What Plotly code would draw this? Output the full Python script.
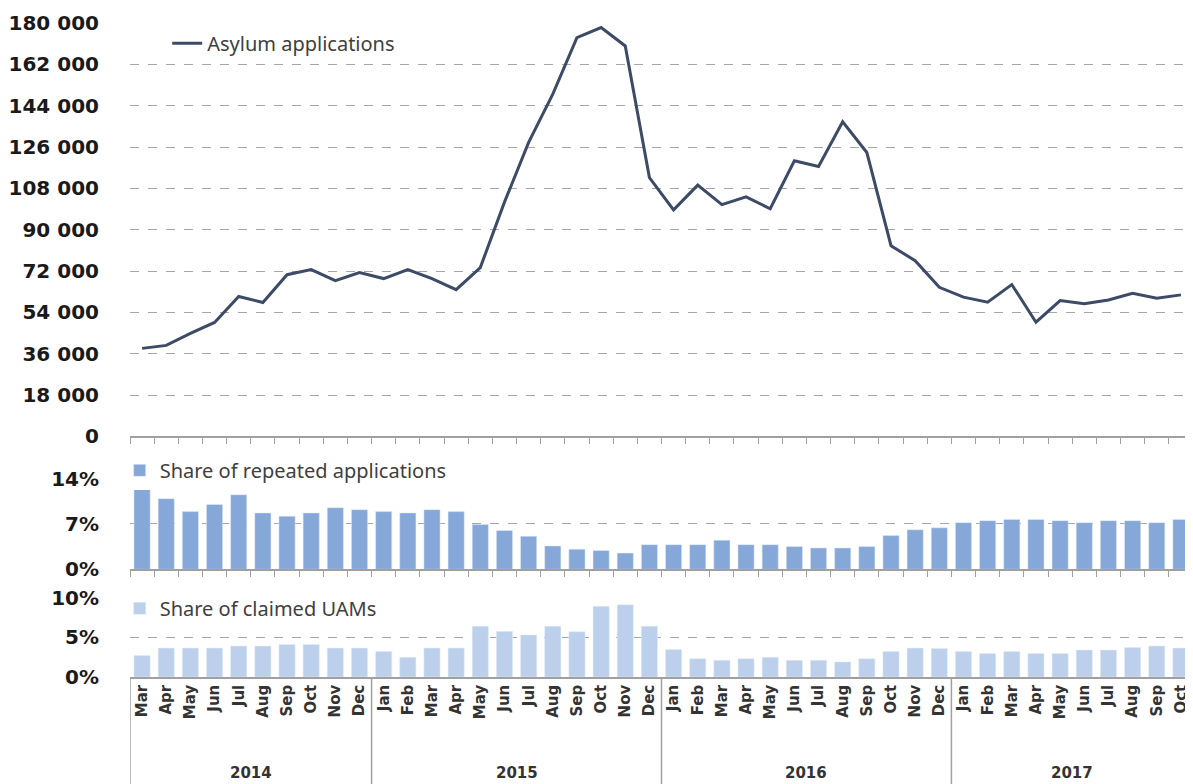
import plotly.graph_objects as go
from plotly.subplots import make_subplots

# category axis: year groups and months (Mar 2014 - Oct 2017)
years = ['2014'] * 10 + ['2015'] * 12 + ['2016'] * 12 + ['2017'] * 10
all_months = ['Jan', 'Feb', 'Mar', 'Apr', 'May', 'Jun',
              'Jul', 'Aug', 'Sep', 'Oct', 'Nov', 'Dec']
months = all_months[2:] + all_months + all_months + all_months[:10]

asylum = [38300, 39600, 44800, 49600, 60900, 58300, 70400, 72600, 67800, 71300,
          68700, 72600, 68700, 63900, 73500, 102000, 128000, 149000, 173600, 178000, 170000, 112700,
          98600, 109400, 100900, 104300, 99100, 120000, 117500, 137000, 123600, 83000, 76500, 64900,
          60600, 58400, 66100, 49700, 59100, 57700, 59400, 62300, 60100, 61600]

repeated_share = [12.5, 10.9, 8.9, 10.0, 11.5, 8.7, 8.2, 8.7, 9.5, 9.2,
                  8.9, 8.7, 9.2, 8.9, 6.9, 6.0, 5.1, 3.6, 3.1, 2.9, 2.5, 3.8,
                  3.8, 3.8, 4.5, 3.8, 3.8, 3.5, 3.3, 3.3, 3.5, 5.2, 6.1, 6.4,
                  7.2, 7.5, 7.7, 7.7, 7.5, 7.2, 7.5, 7.5, 7.2, 7.7]

uam_share = [2.7, 3.65, 3.65, 3.65, 3.9, 3.9, 4.1, 4.1, 3.65, 3.65,
             3.2, 2.5, 3.65, 3.65, 6.4, 5.75, 5.3, 6.4, 5.7, 8.9, 9.1, 6.4,
             3.45, 2.3, 2.1, 2.3, 2.5, 2.1, 2.1, 1.9, 2.3, 3.2, 3.65, 3.6,
             3.2, 2.95, 3.2, 2.95, 2.95, 3.4, 3.4, 3.7, 3.9, 3.65]

idx = list(range(len(months)))
n = len(idx)

fig = make_subplots(rows=3, cols=1, shared_xaxes=True, vertical_spacing=0)

fig.add_trace(go.Scatter(x=idx, y=asylum, mode='lines', name='Asylum applications',
                         line=dict(color='#3d4b66', width=3), legend='legend'),
              row=1, col=1)
fig.add_trace(go.Bar(x=idx, y=repeated_share, name='Share of repeated applications',
                     marker_color='#85a8d8', legend='legend2'),
              row=2, col=1)
fig.add_trace(go.Bar(x=idx, y=uam_share, name='Share of claimed UAMs',
                     marker_color='#bcd0ec', legend='legend3'),
              row=3, col=1)

axis_font = dict(family='DejaVu Sans', size=20, color='#1a1a1a', weight='bold')
grid = dict(showgrid=True, gridcolor='#a6a6a6', griddash='dash', gridwidth=1,
            zeroline=False, showline=False, tickfont=axis_font,
            ticks='', ticklabelstandoff=30, automargin=False)

fig.update_yaxes(range=[0, 180000], dtick=18000, tickformat=',d',
                 domain=[0.368, 1.0], **grid, row=1, col=1)
fig.update_yaxes(range=[0, 14], tickvals=[0, 7, 14], ticktext=['0%', '7%', '14%'],
                 domain=[0.1647, 0.3034], **grid, row=2, col=1)
fig.update_yaxes(range=[0, 10], tickvals=[0, 5, 10], ticktext=['0%', '5%', '10%'],
                 domain=[0, 0.1214], **grid, row=3, col=1)

bounds = [i - 0.5 for i in range(n + 1)]
upper_x = dict(range=[-0.5, n - 0.5], showgrid=False, showline=True,
               linecolor='#a0a0a0', linewidth=1.5, ticks='outside', ticklen=6,
               tickcolor='#a0a0a0', tickvals=bounds, showticklabels=False,
               automargin=False)
fig.update_xaxes(**upper_x, row=1, col=1)
fig.update_xaxes(**upper_x, row=2, col=1)
fig.update_xaxes(range=[-0.5, n - 0.5], showgrid=False, showline=True,
                 linecolor='#a0a0a0', linewidth=1.5, ticks='', tickangle=-90,
                 tickvals=idx, ticktext=months, showticklabels=True, automargin=False,
                 tickfont=dict(family='DejaVu Sans', size=15, color='#333333', weight='bold'),
                 row=3, col=1)

# year groups: dividers and labels under the month labels
group_start = [i for i in idx if i == 0 or years[i] != years[i - 1]]
group_end = group_start[1:] + [n]
for s, e in zip(group_start, group_end):
    fig.add_shape(type='line', xref='x3', yref='paper', x0=s - 0.5, x1=s - 0.5,
                  y0=0, y1=-0.17, line=dict(color='#a0a0a0', width=1.5))
    fig.add_annotation(xref='x3', yref='paper', x=(s + e - 1) / 2, y=-0.147,
                       text=years[s], showarrow=False, yanchor='middle',
                       font=dict(family='DejaVu Sans', size=15, color='#333333', weight='bold'))

legend_font = dict(family='Noto Sans', size=20, color='#404040')
legend_common = dict(xanchor='left', yanchor='middle', bgcolor='white',
                     font=legend_font, borderwidth=0, itemclick=False)

# the page body adds an 8px offset, so the figure is sized to fit the window
fig.update_layout(
    width=1185, height=776,
    margin=dict(l=122, r=0, t=14.7, b=107.3),
    paper_bgcolor='white', plot_bgcolor='white',
    separators=', ',
    bargap=0.33,
    showlegend=True,
    legend=dict(x=0.035, y=0.969, **legend_common),
    legend2=dict(x=-0.0097, y=0.316, **legend_common),
    legend3=dict(x=-0.0097, y=0.105, **legend_common),
)

fig.write_html('out.html')
